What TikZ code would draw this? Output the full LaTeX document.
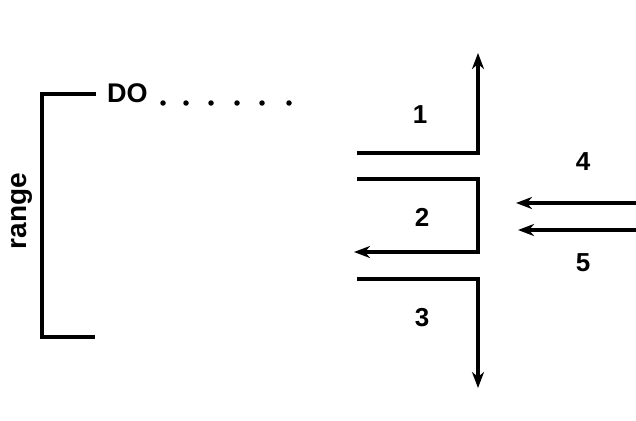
\documentclass[tikz,border=0pt]{standalone}
\usepackage{fontspec}
\setmainfont{Liberation Sans}
\usetikzlibrary{arrows.meta}
\begin{document}
\begin{tikzpicture}[x=1pt,y=-1pt,
  ln/.style={line width=3.2pt},
  arr/.style={line width=3.2pt,-{Stealth[length=16pt,width=12pt,inset=5pt]}},
  lbl/.style={font=\bfseries\fontsize{26}{26}\selectfont,inner sep=0pt},
  dotmark/.style={circle,fill=black,inner sep=0pt,minimum size=5.5pt}]
\useasboundingbox (0,0) rectangle (636,420);
% bracket
\coordinate (bt) at (96,94);
\coordinate (btl) at (42,94);
\coordinate (bbl) at (42,337);
\coordinate (bb) at (95,337);
\draw[ln,line join=miter] (bt) -- (btl) -- (bbl) -- (bb);
\node[lbl,anchor=west,font=\bfseries\fontsize{27}{27}\selectfont] (do) at (107,93) {DO};
\foreach \x/\n in {163/d1,186/d2,211/d3,237/d4,262/d5,289/d6}
  \node[dotmark] (\n) at (\x,103) {};
\node[lbl,rotate=90,font=\bfseries\fontsize{28}{28}\selectfont] (range) at (22,211) {range};
% region 1
\coordinate (a1s) at (357,153);
\coordinate (a1c) at (478,153);
\coordinate (a1e) at (478,53);
\draw[arr,line join=miter] (a1s) -- (a1c) -- (a1e);
% region 2
\coordinate (a2s) at (357,179);
\coordinate (a2c1) at (478,179);
\coordinate (a2c2) at (478,252);
\coordinate (a2e) at (354,252);
\draw[arr,line join=miter] (a2s) -- (a2c1) -- (a2c2) -- (a2e);
% region 3
\coordinate (a3s) at (357,279);
\coordinate (a3c) at (478,279);
\coordinate (a3e) at (478,388);
\draw[arr,line join=miter] (a3s) -- (a3c) -- (a3e);
% arrows 4, 5
\coordinate (a4s) at (637,203);
\coordinate (a4e) at (516,203);
\coordinate (a5s) at (637,230);
\coordinate (a5e) at (518,230);
\draw[arr] (a4s) -- (a4e);
\draw[arr] (a5s) -- (a5e);
% labels
\node[lbl] (n1) at (420,115) {1};
\node[lbl] (n2) at (422,217) {2};
\node[lbl] (n3) at (422,318) {3};
\node[lbl] (n4) at (583,162) {4};
\node[lbl] (n5) at (583,263) {5};
\end{tikzpicture}
\end{document}
